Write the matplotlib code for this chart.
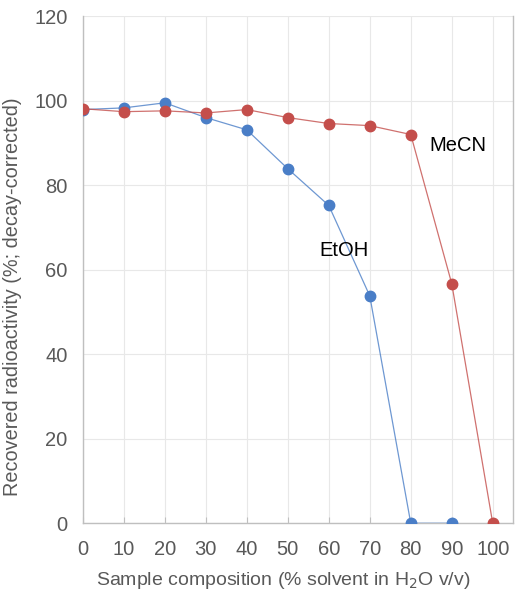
import matplotlib.pyplot as plt

plt.rcParams['font.family'] = ['Liberation Sans', 'DejaVu Sans']

comp = [0, 10, 20, 30, 40, 50, 60, 70, 80, 90, 100]
etoh_x = [0, 10, 20, 30, 40, 50, 60, 70, 80, 90]
etoh = [97.9, 98.3, 99.5, 96.0, 93.1, 83.9, 75.2, 53.8, 0, 0]
mecn_x = comp
mecn = [98.1, 97.4, 97.6, 97.1, 97.9, 96.0, 94.6, 94.1, 92.0, 56.7, 0]

blue = '#4A7EC7'
red = '#C44E4B'
grey = '#595959'

fig = plt.figure(figsize=(5.28, 6), dpi=100)
ax = fig.add_axes([0.157, 0.128, 0.815, 0.845])

ax.plot(etoh_x, etoh, color=blue, lw=0.9, alpha=0.8, zorder=2)
ax.plot(etoh_x, etoh, 'o', color=blue, ms=7.5, zorder=3)
ax.plot(mecn_x, mecn, color=red, lw=0.9, alpha=0.8, zorder=4)
ax.plot(mecn_x, mecn, 'o', color=red, ms=7.5, zorder=5)

ax.text(84.6, 89.4, 'MeCN', fontsize=14.5, color='black', va='center', ha='left')
ax.text(57.8, 64.5, 'EtOH', fontsize=14.5, color='black', va='center', ha='left')

ax.set_xlim(0, 105)
ax.set_ylim(0, 120)
ax.set_xticks(comp)
ax.set_yticks(range(0, 121, 20))
ax.grid(True, color='#E8E8E8', lw=0.8, zorder=0)
ax.set_axisbelow(True)
for side in ['left', 'right', 'top', 'bottom']:
    ax.spines[side].set_color('#BFBFBF')
    ax.spines[side].set_linewidth(1.0)
ax.spines['top'].set_visible(False)
ax.tick_params(axis='x', direction='in', length=4, color='#BFBFBF', labelsize=14.5, labelcolor=grey, pad=12)
ax.tick_params(axis='y', length=0, labelsize=14.5, labelcolor=grey, pad=11)

ax.set_xlabel('Sample composition (% solvent in H$_2$O v/v)', fontsize=14, color=grey)
ax.set_ylabel('Recovered radioactivity (%; decay-corrected)', fontsize=14.3, color=grey)
ax.xaxis.set_label_coords(0.465, -0.092)
ax.yaxis.set_label_coords(-0.142, 0.446)

fig.savefig('out.png', dpi=100)
